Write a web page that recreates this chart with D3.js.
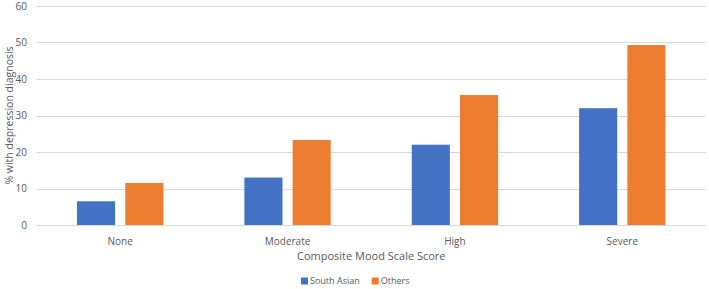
<!DOCTYPE html>
<html>
<head>
<meta charset="utf-8">
<script src="https://cdn.jsdelivr.net/npm/d3@7"></script>
<style>
  body { margin: 0; background: #fff; }
  text { font-family: "Open Sans", "Liberation Sans", sans-serif; fill: #595959; }
</style>
</head>
<body>
<svg width="709" height="289"></svg>
<script>
const categories = ['None', 'Moderate', 'High', 'Severe'];
const seriesNames = ['South Asian', 'Others'];
const southAsian = [6.5, 13.0, 22.0, 32.0];
const others = [11.5, 23.3, 35.6, 49.3];
const yTicks = [0, 10, 20, 30, 40, 50, 60];
const colors = ['#4472C4', '#ED7D31'];

const svg = d3.select('svg');
const margin = {left: 36.5, right: 3, top: 6, bottom: 64};
const width = +svg.attr('width'), height = +svg.attr('height');

let x0 = d3.scaleBand()
    .domain(categories)
    .range([margin.left, width - margin.right]);

let groupPad = 40.5;
let x1 = d3.scaleBand()
    .domain(seriesNames)
    .range([groupPad, x0.bandwidth() - groupPad])
    .paddingInner(0.21);

let y = d3.scaleLinear()
    .domain([0, 60])
    .range([height - margin.bottom, margin.top]);

// gridlines
svg.append('g')
  .selectAll('line')
  .data(yTicks)
  .enter().append('line')
    .attr('x1', margin.left)
    .attr('x2', width - margin.right)
    .attr('y1', d => Math.round(y(d)) + 0.5)
    .attr('y2', d => Math.round(y(d)) + 0.5)
    .attr('stroke', '#d9d9d9')
    .attr('stroke-width', 1);

// y tick labels
svg.append('g')
  .selectAll('text')
  .data(yTicks)
  .enter().append('text')
    .attr('x', 27)
    .attr('y', d => y(d))
    .attr('dy', '0.35em')
    .attr('text-anchor', 'end')
    .attr('font-size', 10)
    .text(d => d);

let rows = categories.map((c, i) => ({cat: c, values: [southAsian[i], others[i]]}));

let group = svg.append('g')
  .selectAll('g')
  .data(rows)
  .enter().append('g')
    .attr('transform', d => `translate(${x0(d.cat)},0)`);

group.selectAll('rect')
  .data(d => d.values.map((v, i) => ({name: seriesNames[i], value: v, i})))
  .enter().append('rect')
    .attr('x', d => x1(d.name))
    .attr('width', x1.bandwidth())
    .attr('y', d => y(d.value))
    .attr('height', d => y(0) - y(d.value))
    .attr('fill', d => colors[d.i]);

// x tick labels
svg.append('g')
  .selectAll('text')
  .data(categories)
  .enter().append('text')
    .attr('x', d => x0(d) + x0.bandwidth() / 2)
    .attr('y', 241)
    .attr('dy', '0.35em')
    .attr('text-anchor', 'middle')
    .attr('font-size', 10)
    .text(d => d);

// axis titles
svg.append('text')
  .attr('x', (margin.left + width - margin.right) / 2)
  .attr('y', 256)
  .attr('dy', '0.35em')
  .attr('text-anchor', 'middle')
  .attr('font-size', 11)
  .text('Composite Mood Scale Score');

svg.append('text')
  .attr('transform', `translate(9,${y(30)}) rotate(-90)`)
  .attr('dy', '0.35em')
  .attr('text-anchor', 'middle')
  .attr('font-size', 10.5)
  .text('% with depression diagnosis');

// legend
let legend = svg.append('g').attr('transform', 'translate(301,281)');
let lx = 0;
seriesNames.forEach((s, i) => {
  let item = legend.append('g').attr('transform', `translate(${lx},0)`);
  item.append('rect')
    .attr('x', 0).attr('y', -3.5)
    .attr('width', 7).attr('height', 7)
    .attr('fill', colors[i]);
  let t = item.append('text')
    .attr('x', 9).attr('y', 0)
    .attr('dy', '0.35em')
    .attr('font-size', 9)
    .text(s);
  lx += 9 + t.node().getComputedTextLength() + 12;
});
</script>
</body>
</html>
